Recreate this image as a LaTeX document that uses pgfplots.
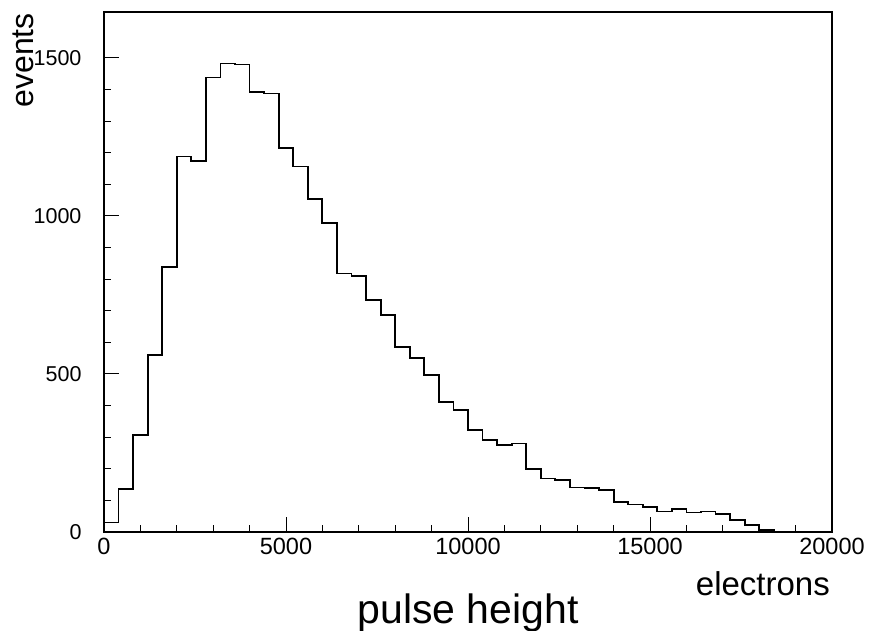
\documentclass[border=0pt]{standalone}
\usepackage{fontspec}
\setmainfont{Liberation Sans}
\usepackage{pgfplots}
\pgfplotsset{compat=1.18}
\begin{document}
\begin{tikzpicture}
\begin{axis}[
  scale only axis,
  width=728pt, height=520pt,
  xmin=0, xmax=20000, ymin=0, ymax=1645,
  xtick={0,5000,10000,15000,20000},
  ytick={0,500,1000,1500},
  minor x tick num=4,
  minor y tick num=4,
  tick pos=left,
  tick align=inside,
  major tick length=15pt,
  minor tick length=7pt,
  every tick/.style={black, line width=0.9pt},
  axis line style={line width=1.8pt},
  /pgf/number format/assume math mode=true,
  /pgf/number format/1000 sep={},
  xticklabel style={font=\fontsize{23.5}{26}\selectfont, yshift=-3pt},
  yticklabel style={font=\fontsize{21.5}{24}\selectfont, xshift=-19pt},
  scaled ticks=false,
]
\addplot[const plot mark left, black, line width=1.8pt] coordinates {
(0,30) (400,136) (800,308) (1200,561) (1600,839) (2000,1188) (2400,1173)
(2800,1438) (3200,1482) (3600,1479) (4000,1393) (4400,1387) (4800,1216)
(5200,1156) (5600,1053) (6000,978) (6400,818) (6800,810) (7200,734)
(7600,687) (8000,586) (8400,550) (8800,497) (9200,412) (9600,387)
(10000,323) (10400,290) (10800,276) (11200,280) (11600,200) (12000,169)
(12400,164) (12800,141) (13200,138) (13600,133) (14000,94) (14400,87)
(14800,78) (15200,65) (15600,72) (16000,62) (16400,65) (16800,56)
(17200,39) (17600,23) (18000,6) (18400,0) (18800,0) (19200,0) (19600,0) (20000,0)
};
\end{axis}
\node[anchor=base, font=\fontsize{41}{46}\selectfont] at ([xshift=364pt,yshift=-91pt]current axis.south west) {pulse height};
\node[anchor=base east, inner sep=0pt, font=\fontsize{33}{38}\selectfont] at ([xshift=-2pt,yshift=-63pt]current axis.south east) {electrons};
\node[anchor=base east, inner sep=0pt, rotate=90, font=\fontsize{32}{36}\selectfont] at ([xshift=-70pt,yshift=-1pt]current axis.north west) {events};
\pgfresetboundingbox
\useasboundingbox ([xshift=-104pt,yshift=-98pt]current axis.south west) rectangle ([xshift=39pt,yshift=12pt]current axis.north east);
\end{tikzpicture}
\end{document}
